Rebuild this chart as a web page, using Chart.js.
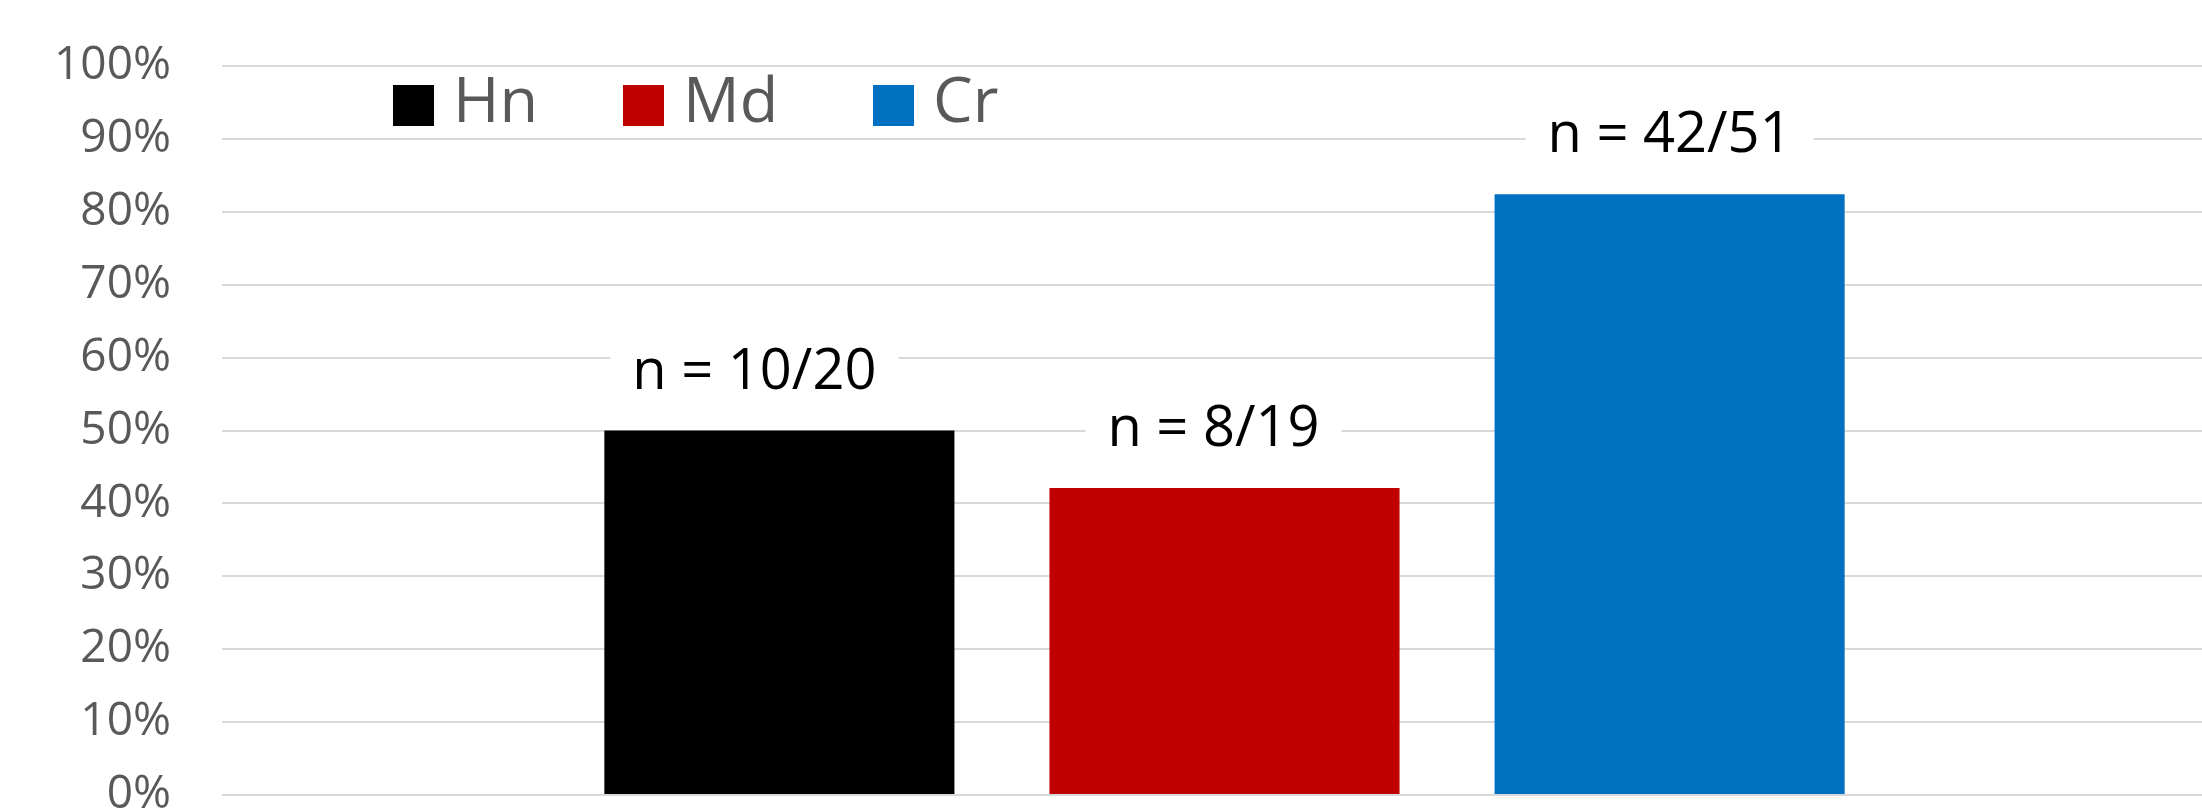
<!DOCTYPE html>
<html>
<head>
<meta charset="utf-8">
<script src="https://cdn.jsdelivr.net/npm/chart.js@4/dist/chart.umd.min.js"></script>
<style>
    html, body { margin: 0; padding: 0; background: #fff; overflow: hidden; }
    #wrap { width: 2202px; height: 810px; overflow: hidden; position: relative; }
    #chart { display: block; }
</style>
</head>
<body>
<div id="wrap"><canvas id="chart" width="2227" height="840"></canvas></div>
<script>
const groups = ['Hn', 'Md', 'Cr'];
const percentValues = [50, 42.1, 82.4];
const countLabels = ['n = 10/20', 'n = 8/19', 'n = 42/51'];
const barColors = ['#000000', '#c00000', '#0070c0'];
const yTicks = [0, 10, 20, 30, 40, 50, 60, 70, 80, 90, 100];

const fontFamily = "'Open Sans', 'Noto Sans', sans-serif";
const legendX = [393, 623, 873];
const labelShiftX = [-25, -11, 0];

// legend drawn inside the plot, top left
const topLegend = {
    id: 'topLegend',
    afterDraw(chart) {
        const ctx = chart.ctx;
        ctx.save();
        ctx.font = '63px ' + fontFamily;
        ctx.textBaseline = 'middle';
        chart.data.datasets.forEach((ds, i) => {
            const x = legendX[i];
            ctx.fillStyle = ds.backgroundColor;
            ctx.fillRect(x, 85, 41, 41);
            ctx.fillStyle = '#595959';
            ctx.fillText(ds.label, x + 60, 104);
        });
        ctx.restore();
    }
};

// "n = a/b" labels above each bar, on a white box
const countLabelsPlugin = {
    id: 'countLabels',
    afterDatasetsDraw(chart) {
        const ctx = chart.ctx;
        ctx.save();
        ctx.font = '56px ' + fontFamily;
        ctx.textAlign = 'center';
        ctx.textBaseline = 'alphabetic';
        chart.data.datasets.forEach((ds, i) => {
            const bar = chart.getDatasetMeta(i).data[0];
            const text = countLabels[i];
            const w = ctx.measureText(text).width;
            const x = bar.x + labelShiftX[i];
            const baseY = bar.y - 42;
            ctx.fillStyle = '#ffffff';
            ctx.fillRect(x - w / 2 - 22, baseY - 58, w + 44, 76);
            ctx.fillStyle = '#000000';
            ctx.fillText(text, x, baseY);
        });
        ctx.restore();
    }
};

new Chart(document.getElementById('chart'), {
    type: 'bar',
    data: {
        labels: [''],
        datasets: groups.map((g, i) => ({
            label: g,
            data: [percentValues[i]],
            backgroundColor: barColors[i],
            borderWidth: 0,
            categoryPercentage: 0.666,
            barPercentage: 0.7865
        }))
    },
    options: {
        responsive: false,
        animation: false,
        devicePixelRatio: 1,
        layout: { padding: { top: 66, bottom: 45, left: 0, right: 0 } },
        plugins: {
            legend: { display: false },
            tooltip: { enabled: false }
        },
        scales: {
            x: { display: false },
            y: {
                min: 0,
                max: 100,
                afterFit: scale => { scale.width = 222; },
                afterBuildTicks: scale => { scale.ticks = yTicks.map(v => ({ value: v })); },
                border: { display: false },
                grid: {
                    color: '#d9d9d9',
                    lineWidth: 2,
                    drawTicks: true,
                    tickLength: 51,
                    tickColor: 'rgba(0,0,0,0)'
                },
                ticks: {
                    padding: 0,
                    color: '#595959',
                    font: { family: fontFamily, size: 46 },
                    callback: v => v + '%'
                }
            }
        }
    },
    plugins: [topLegend, countLabelsPlugin]
});
</script>
</body>
</html>
